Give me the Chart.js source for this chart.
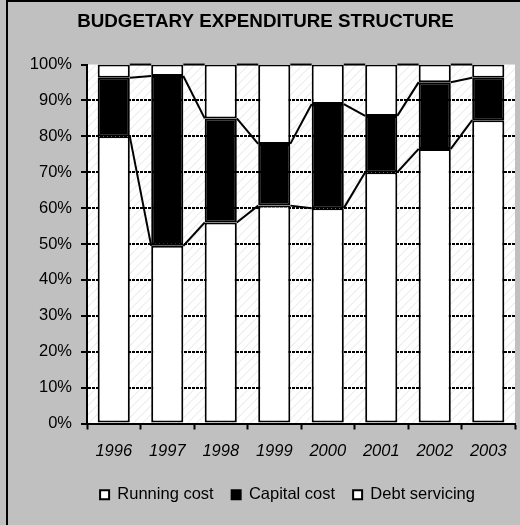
<!DOCTYPE html>
<html>
<head>
<meta charset="utf-8">
<title>Budgetary expenditure structure</title>
<script src="https://cdn.jsdelivr.net/npm/chart.js@4/dist/chart.umd.min.js"></script>
<style>
	html, body { margin: 0; padding: 0; background: #c0c0c0; }
	#wrap { position: relative; width: 520px; height: 525px; }
</style>
</head>
<body>
<div id="wrap"><canvas id="budget-chart"></canvas></div>
<script>
( function () {
	'use strict';

	// Shares of the budget, in percent, one entry per year.
	var years        = [ '1996', '1997', '1998', '1999', '2000', '2001', '2002', '2003' ];
	var runningCost  = [ 80, 49.5, 56, 60.7, 60, 70, 76.5, 84.5 ];
	var capitalCost  = [ 16.3, 47.3, 29, 17.2, 29, 15.7, 18.6, 11.8 ];
	var debtService  = [ 3.7, 3.2, 15, 22.1, 11, 14.3, 4.9, 3.7 ];
	var percentTicks = [ 0, 10, 20, 30, 40, 50, 60, 70, 80, 90, 100 ];

	var FONT = '"Liberation Sans", Arial, sans-serif';

	// Grey frame, white plot area with a faint diagonal hatch.
	var backdrop = {
		id : 'backdrop',
		beforeDraw : function ( chart ) {
			var ctx  = chart.ctx;
			var area = chart.chartArea;
			ctx.save();
			ctx.fillStyle = '#c0c0c0';
			ctx.fillRect( 0, 0, chart.width, chart.height );
			ctx.strokeStyle = '#000';
			ctx.lineWidth = 2;
			ctx.beginPath();
			ctx.moveTo( 7, chart.height + 2 );
			ctx.lineTo( 7, 1 );
			ctx.lineTo( chart.width + 2, 1 );
			ctx.stroke();

			ctx.fillStyle = '#fff';
			ctx.fillRect( area.left, area.top, area.right - area.left, area.bottom - area.top );
			ctx.beginPath();
			ctx.rect( area.left, area.top, area.right - area.left, area.bottom - area.top );
			ctx.clip();
			ctx.strokeStyle = '#e4e4e4';
			ctx.lineWidth = 1;
			var h = area.bottom - area.top;
			for ( var x = area.left - h; x < area.right; x += 9 ) {
				ctx.beginPath();
				ctx.moveTo( x, area.bottom );
				ctx.lineTo( x + h, area.top );
				ctx.stroke();
			}
			ctx.restore();
		},
	};

	// Title and legend sit a little right of the canvas centre.
	var nudge = {
		id : 'nudge',
		afterLayout : function ( chart ) {
			chart.titleBlock.left  += 8;
			chart.titleBlock.right += 8;
			chart.legend.left  += 30;
			chart.legend.right += 30;
		},
	};

	// Series lines joining the tops of matching segments of neighbouring bars.
	var seriesLines = {
		id : 'seriesLines',
		afterDatasetsDraw : function ( chart ) {
			var ctx = chart.ctx;
			ctx.save();
			ctx.strokeStyle = '#000';
			ctx.lineWidth = 2;
			chart.data.datasets.forEach( function ( ds, d ) {
				var bars = chart.getDatasetMeta( d ).data;
				for ( var i = 0; i < bars.length - 1; i++ ) {
					var a = bars[ i ], b = bars[ i + 1 ];
					ctx.beginPath();
					ctx.moveTo( a.x + a.width / 2, a.y );
					ctx.lineTo( b.x - b.width / 2, b.y );
					ctx.stroke();
				}
			} );
			ctx.restore();
		},
	};

	new Chart( document.getElementById( 'budget-chart' ), {
		type : 'bar',
		data : {
			labels   : years,
			datasets : [
				{
					label           : 'Running cost',
					data            : runningCost,
					backgroundColor : '#fff',
					borderColor     : '#000',
					borderWidth     : 2,
					borderSkipped   : false,
				},
				{
					label           : 'Capital cost',
					data            : capitalCost,
					backgroundColor : '#000',
					borderColor     : '#000',
					borderWidth     : 2,
					borderSkipped   : false,
				},
				{
					label           : 'Debt servicing',
					data            : debtService,
					backgroundColor : '#fff',
					borderColor     : '#000',
					borderWidth     : 2,
					borderSkipped   : false,
				},
			],
		},
		options : {
			responsive          : true,
			maintainAspectRatio : false,
			animation           : false,
			barPercentage       : 0.6,
			categoryPercentage  : 1,
			layout : { padding : { left : 0, right : 5, top : 0, bottom : 12 } },
			plugins : {
				title : {
					display : true,
					text    : 'BUDGETARY EXPENDITURE STRUCTURE',
					color   : '#000',
					font    : { family : FONT, size : 18.8, weight : 'bold' },
					padding : { top : 10.5, bottom : 31.5 },
				},
				legend : {
					position : 'bottom',
					labels   : {
						color     : '#000',
						font      : { family : FONT, size : 16.5 },
						boxWidth  : 9,
						boxHeight : 9,
						padding   : 18,
					},
				},
				tooltip : { enabled : false },
			},
			scales : {
				x : {
					stacked : true,
					offset  : true,
					grid    : {
						drawOnChartArea : false,
						color           : '#000',
						tickLength      : 6,
						tickWidth       : 2,
					},
					border : { color : '#000', width : 2 },
					ticks  : {
						color   : '#000',
						padding : 12,
						font    : { family : FONT, size : 16.5, style : 'italic' },
						maxRotation : 0,
					},
					afterFit : function ( scale ) { scale.height = 45; },
				},
				y : {
					stacked : true,
					min     : 0,
					max     : 100,
					afterBuildTicks : function ( scale ) {
						scale.ticks = percentTicks.map( function ( v ) { return { value : v }; } );
					},
					grid : {
						color      : function ( c ) { return c.tick && c.tick.value > 0 && c.tick.value < 100 ? '#000' : 'rgba(0,0,0,0)'; },
						lineWidth  : 2,
						tickColor  : '#000',
						tickLength : 6,
						tickWidth  : 2,
					},
					border : { color : '#000', width : 2, dash : [ 3, 1 ] },
					ticks  : {
						color    : '#000',
						padding  : 9,
						font     : { family : FONT, size : 16.5 },
						callback : function ( v ) { return v + '%'; },
					},
					afterFit : function ( scale ) { scale.width = 87; },
				},
			},
		},
		plugins : [ backdrop, nudge, seriesLines ],
	} );
} )();
</script>
</body>
</html>
